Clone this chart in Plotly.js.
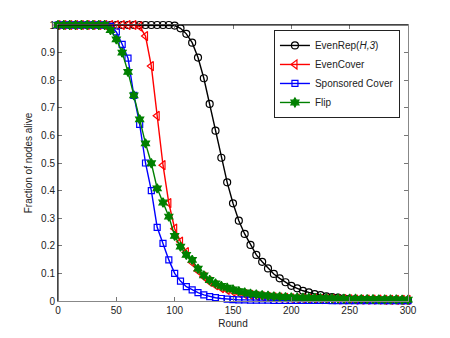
<!DOCTYPE html>
<html>
<head>
<meta charset="utf-8">
<script src="https://cdn.plot.ly/plotly-3.0.1.min.js"></script>
<style>
  html, body { margin: 0; padding: 0; background: #fff; }
  #chart { width: 450px; height: 338px; }
</style>
</head>
<body>
<div id="chart"></div>
<script>
// rounds, every 5 from 0 to 300
const rounds = [0,5,10,15,20,25,30,35,40,45,50,55,60,65,70,75,80,85,90,95,
  100,105,110,115,120,125,130,135,140,145,150,155,160,165,170,175,180,185,190,195,
  200,205,210,215,220,225,230,235,240,245,250,255,260,265,270,275,280,285,290,295,300];

const evenRep = [1,1,1,1,1,1,1,1,1,1,1,1,1,1,1,1,1,1,1,1,
  0.998,0.988,0.968,0.936,0.882,0.807,0.714,0.617,0.519,0.43,0.354,0.291,0.243,0.203,0.167,0.142,0.118,0.098,0.082,0.068,
  0.055,0.046,0.037,0.031,0.025,0.021,0.017,0.014,0.012,0.010,0.008,0.007,0.006,0.005,0.004,0.004,0.003,0.003,0.003,0.002,0.002];

const evenCover = [1,1,1,1,1,1,1,1,1,1,1,1,1,1,0.995,0.96,0.851,0.671,0.492,0.355,
  0.262,0.215,0.177,0.14,0.11,0.088,0.07,0.057,0.047,0.04,0.034,0.029,0.025,0.022,0.019,0.017,0.015,0.013,0.012,0.011,
  0.010,0.009,0.009,0.008,0.008,0.007,0.007,0.007,0.006,0.006,0.006,0.005,0.005,0.005,0.005,0.005,0.004,0.004,0.004,0.004,0.004];

const sponsored = [1,1,1,1,1,1,1,1,1,0.995,0.975,0.93,0.88,0.745,0.64,0.50,0.40,0.267,0.209,0.149,
  0.10,0.072,0.052,0.04,0.03,0.022,0.016,0.012,0.009,0.007,0.005,0.004,0.004,0.003,0.003,0.003,0.003,0.002,0.002,0.002,
  0.002,0.002,0.002,0.002,0.002,0.002,0.002,0.001,0.001,0.001,0.001,0.001,0.001,0.001,0.001,0.001,0.001,0.001,0.001,0.001,0.001];

const flip = [1,1,1,1,1,1,1,1,1,0.982,0.948,0.90,0.83,0.745,0.658,0.571,0.499,0.408,0.357,0.306,
  0.236,0.197,0.167,0.149,0.117,0.093,0.076,0.064,0.055,0.048,0.042,0.036,0.031,0.027,0.024,0.021,0.019,0.017,0.016,0.014,
  0.013,0.012,0.012,0.011,0.011,0.010,0.010,0.009,0.009,0.008,0.008,0.008,0.007,0.007,0.007,0.006,0.006,0.006,0.006,0.005,0.005];

const xTicks = [0,50,100,150,200,250,300];
const yTicks = [0,0.1,0.2,0.3,0.4,0.5,0.6,0.7,0.8,0.9,1];
const yTickText = ['0','0.1','0.2','0.3','0.4','0.5','0.6','0.7','0.8','0.9','1'];

function series(name, y, color, symbol, size) {
  return {
    x: rounds, y: y, name: name, type: 'scatter', mode: 'lines+markers',
    cliponaxis: false,
    line: {color: color, width: 1.4},
    marker: {symbol: symbol, size: size, color: color, line: {color: color, width: 1.2}}
  };
}

const data = [
  series('EvenRep(<i>H,3</i>)', evenRep, '#000000', 'circle-open', 7),
  series('EvenCover', evenCover, '#ff0000', 'triangle-left-open', 8),
  series('Sponsored Cover', sponsored, '#0000ff', 'square-open', 6),
  series('Flip', flip, '#008000', 'hexagram', 7)
];

const layout = {
  width: 450, height: 338,
  margin: {l: 58, r: 42, t: 25, b: 37},
  paper_bgcolor: '#fff', plot_bgcolor: '#fff',
  font: {family: 'Liberation Sans, Arial, sans-serif', size: 10, color: '#222'},
  showlegend: true,
  legend: {
    x: 0.617, y: 0.982, xanchor: 'left', yanchor: 'top',
    bgcolor: '#fff', bordercolor: '#222', borderwidth: 1,
    font: {size: 10, color: '#222'},
    tracegroupgap: 0, itemwidth: 30
  },
  xaxis: {
    range: [0, 300], tickvals: xTicks, ticks: 'inside', ticklen: 4,
    tickcolor: '#777', showgrid: false, zeroline: false,
    showline: true, linecolor: '#888', linewidth: 1, mirror: 'ticks',
    title: {text: 'Round', standoff: 4, font: {size: 10}}
  },
  yaxis: {
    range: [0, 1], tickvals: yTicks, ticktext: yTickText, ticks: 'inside', ticklen: 4,
    tickcolor: '#777', showgrid: false, zeroline: false,
    showline: true, linecolor: '#888', linewidth: 1, mirror: 'ticks',
    title: {text: 'Fraction of nodes alive', standoff: 6, font: {size: 10}}
  },
  shapes: [
    {type: 'line', xref: 'paper', yref: 'paper', x0: 0, x1: 1, y0: 1, y1: 1, line: {color: '#000', width: 1}},
    {type: 'line', xref: 'paper', yref: 'paper', x0: 0, x1: 0, y0: 0, y1: 1, line: {color: '#000', width: 1}}
  ]
};

Plotly.newPlot('chart', data, layout, {displayModeBar: false, staticPlot: true});
</script>
</body>
</html>
